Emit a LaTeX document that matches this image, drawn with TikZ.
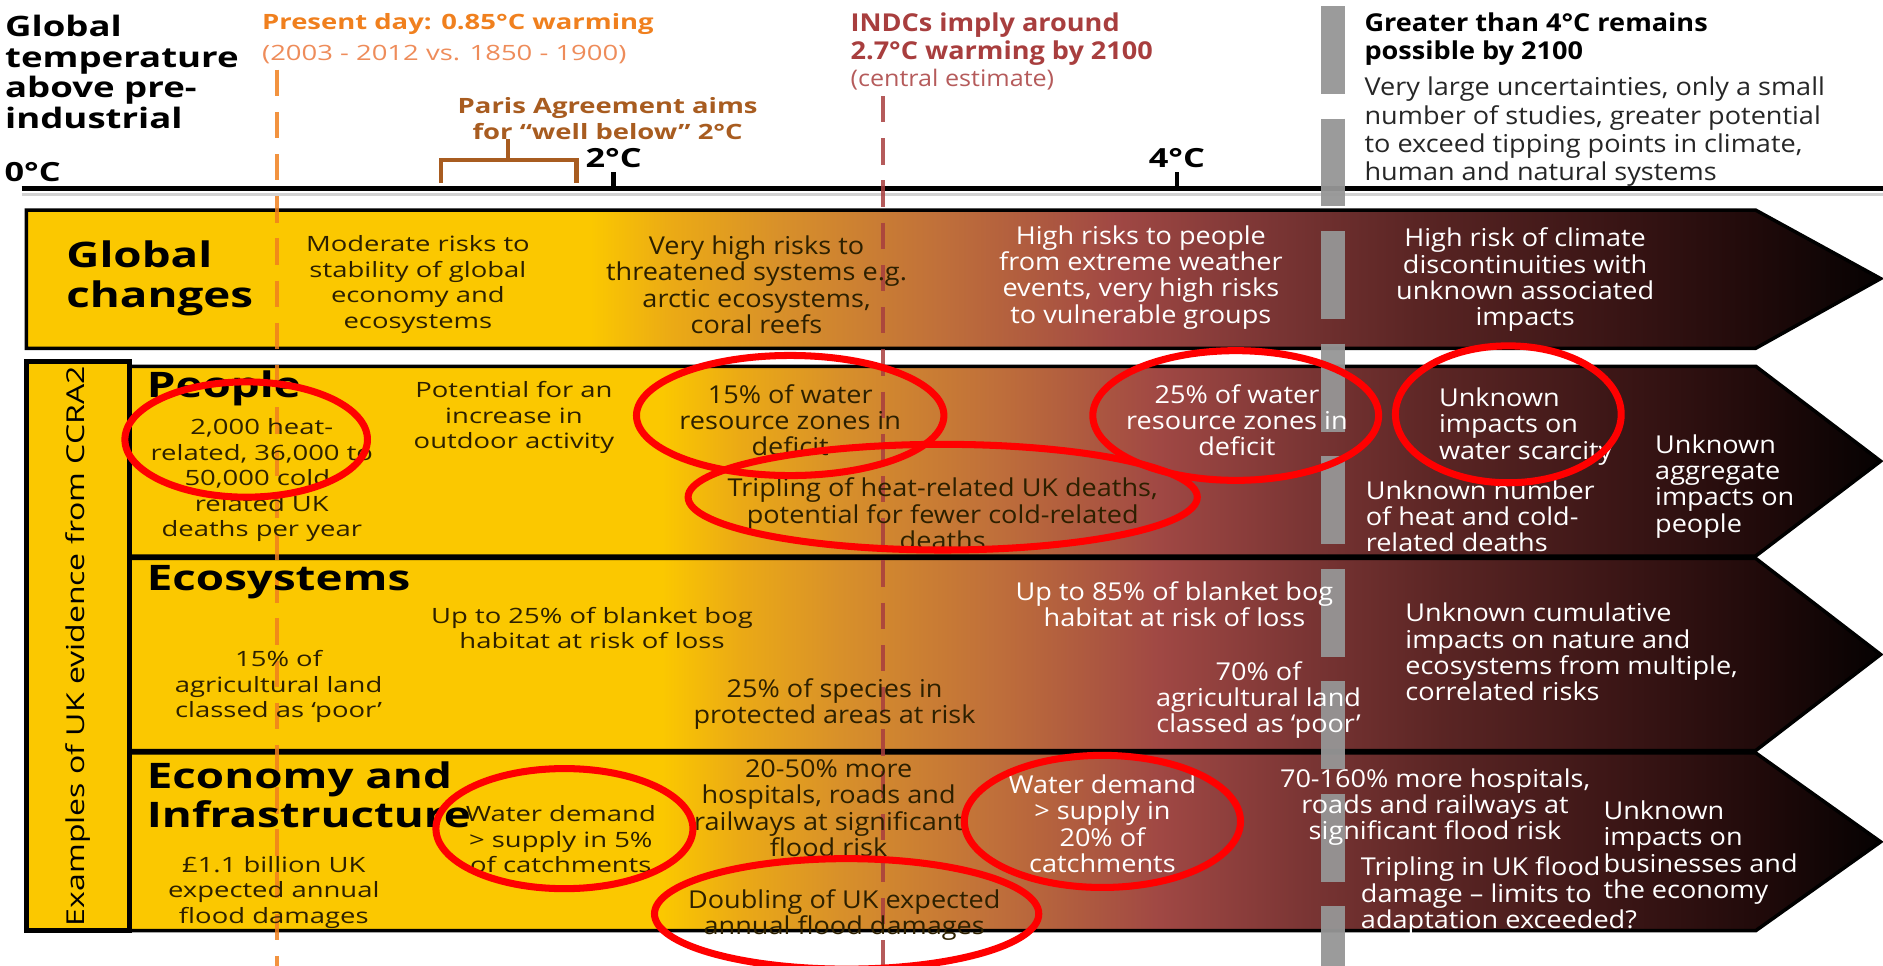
\documentclass[tikz,border=0pt]{standalone}
\usepackage{fontspec}
\setmainfont{Open Sans}
\newfontfamily\widefont[FakeStretch=1.3]{Open Sans}
\newfontfamily\narrowfont[FakeStretch=1.1]{Open Sans}
\usepackage{tikz}
\usetikzlibrary{shapes}
\usetikzlibrary{calc}
\usepackage{xcolor}
\definecolor{ccyellow}{RGB}{251,200,0}
\definecolor{ccgold}{RGB}{235,170,21}
\definecolor{ccamber}{RGB}{216,144,42}
\definecolor{ccorange}{RGB}{192,112,58}
\definecolor{ccred}{RGB}{160,72,68}
\definecolor{ccmaroon}{RGB}{122,53,52}
\definecolor{ccbrown}{RGB}{90,37,36}
\definecolor{ccdark}{RGB}{58,21,21}
\definecolor{ccdarker}{RGB}{32,10,10}
\definecolor{ccblack}{RGB}{6,2,2}
\definecolor{presentorange}{RGB}{240,128,30}
\definecolor{presentlight}{RGB}{238,140,90}
\definecolor{parisbrown}{RGB}{168,92,32}
\definecolor{indcred}{RGB}{168,62,62}
\definecolor{bandgrey}{RGB}{150,150,150}
\definecolor{inktext}{RGB}{45,32,0}
\pgfdeclarehorizontalshading{ccrashade}{100bp}{color(0bp)=(ccyellow); color(25bp)=(ccyellow); color(40.2bp)=(ccyellow); color(42.4bp)=(ccgold); color(45.3bp)=(ccamber); color(49.6bp)=(ccorange); color(54.4bp)=(ccred); color(58.6bp)=(ccmaroon); color(62.5bp)=(ccbrown); color(67.7bp)=(ccdark); color(71.6bp)=(ccdarker); color(75bp)=(ccblack); color(100bp)=(ccblack)}
\tikzstyle{rowarrow}=[shade, shading=ccrashade, draw=black, line width=2pt, line join=miter]
\tikzstyle{colbox}=[fill=ccyellow, draw=black, line width=3pt]
\tikzstyle{presentline}=[presentorange, line width=2.2pt, dash pattern=on 15pt off 9pt, opacity=.85]
\tikzstyle{indcline}=[indcred, line width=2.2pt, dash pattern=on 15pt off 9pt, opacity=.85]
\tikzstyle{greyband}=[bandgrey, line width=13.5pt, dash pattern=on 50pt off 14pt, opacity=.95]
\tikzstyle{redring}=[draw=red, line width=4pt]
\tikzstyle{widetxt}=[font=\widefont\fontsize{12}{14.5}\selectfont, text=inktext, align=center, inner sep=0pt]
\tikzstyle{narrowtxt}=[font=\narrowfont\fontsize{14}{15}\selectfont, text=inktext, align=center, inner sep=0pt]
\tikzstyle{whitetxt}=[narrowtxt, text=white]
\tikzstyle{rowtitle}=[font=\widefont\bfseries\fontsize{20}{22.5}\selectfont, text=black, align=left, anchor=west, inner sep=0pt]
\tikzstyle{degtxt}=[font=\widefont\bfseries\fontsize{15}{16}\selectfont, text=black, inner sep=1pt]

\begin{document}
\begin{tikzpicture}[x=0.24mm,y=-0.24mm]
\useasboundingbox (0,0) rectangle (1568,804);

% temperature scale
\coordinate (axisleft) at (18,157);
\coordinate (axisright) at (1568,157);
\draw[gray!35, line width=2pt] ($(axisleft)+(0,5)$) -- ($(axisright)+(0,5)$);
\draw[line width=3pt] (axisleft) -- (axisright);
\node[degtxt, anchor=south west] (deg0) at (2,153) {0°C};
\foreach \tx/\tl in {511/2,980/4} {
	\draw[line width=2.5pt] (\tx,157) -- (\tx,143) node[degtxt, anchor=south] (deg\tl) {\tl°C};
}

% headings above the scale
\node[font=\widefont\bfseries\fontsize{16}{17.5}\selectfont, align=left, anchor=west, inner sep=0pt] (globtemp) at (4,60) {Global\\temperature\\above pre-\\industrial};
\node[font=\widefont\bfseries\fontsize{12}{17}\selectfont, text=presentorange, anchor=west, inner sep=0pt] (present) at (218,20) {Present day: 0.85°C warming};
\node[font=\widefont\fontsize{12}{17}\selectfont, text=presentlight, anchor=west, inner sep=0pt] (presentyrs) at (218,45) {(2003 - 2012 vs. 1850 - 1900)};
\node[font=\widefont\bfseries\fontsize{12}{15}\selectfont, text=parisbrown, align=center, inner sep=0pt] (paris) at (506,99) {Paris Agreement aims\\for “well below” 2°C};
\draw[parisbrown, line width=2.5pt] (367,152) -- (367,133) -- (480,133) -- (480,152);
\draw[parisbrown, line width=2.5pt] (423,133) -- (423,116);
\node[font=\narrowfont\bfseries\fontsize{14}{16}\selectfont, text=indcred, align=left, anchor=north west, inner sep=0pt] (indc) at (708,10) {INDCs imply around\\2.7°C warming by 2100};
\node[font=\narrowfont\fontsize{13}{15}\selectfont, text=indcred!85!white, anchor=west, inner sep=0pt] (indcest) at (708,66) {(central estimate)};
\node[font=\narrowfont\bfseries\fontsize{14}{16}\selectfont, text=black, align=left, anchor=north west, inner sep=0pt] (beyond) at (1136,10) {Greater than 4°C remains\\possible by 2100};
\node[font=\narrowfont\fontsize{14}{16}\selectfont, text=black!85, align=left, anchor=north west, inner sep=0pt] (uncert) at (1136,64) {Very large uncertainties, only a small\\number of studies, greater potential\\to exceed tipping points in climate,\\human and natural systems};

% global changes arrow
\path[rowarrow] (22,175) -- (1462,175) -- (1566,232) -- (1462,290) -- (22,290) -- cycle;

% UK evidence arrows
\foreach \rt/\rb in {305/463,465/625,627/775} {
	\path[rowarrow] (108,\rt) -- (1462,\rt) -- (1566,{(\rt+\rb)/2}) -- (1462,\rb) -- (108,\rb) -- cycle;
}
\draw[colbox] (22,301) rectangle (108,775);
\node[font=\widefont\fontsize{14}{16}\selectfont, text=black, rotate=90, inner sep=0pt] (ukev) at (65,538) {Examples of UK evidence from CCRA2};

% warming lines
\coordinate (presenttop) at (231,58);
\coordinate (presentbot) at (231,804);
\draw[presentline] (presenttop) -- (presentbot);
\coordinate (indctop) at (735,80);
\coordinate (indcbot) at (735,804);
\draw[indcline] (indctop) -- (indcbot);
\coordinate (bandtop) at (1110,5);
\coordinate (bandbot) at (1110,804);
\draw[greyband] (bandtop) -- (bandbot);

% global changes
\node[rowtitle] (glob) at (55,232) {Global\\changes};
\node[widetxt] (glob1) at (348,237) {Moderate risks to\\stability of global\\economy and\\ecosystems};
\node[narrowtxt] (glob2) at (630,237) {Very high risks to\\threatened systems e.g.\\arctic ecosystems,\\coral reefs};
\node[whitetxt] (glob3) at (950,231) {High risks to people\\from extreme weather\\events, very high risks\\to vulnerable groups};
\node[whitetxt] (glob4) at (1270,233) {High risk of climate\\discontinuities with\\unknown associated\\impacts};

% people
\node[rowtitle] (ppl) at (122,323) {People};
\node[widetxt] (ppl1) at (218,400) {2,000 heat-\\related, 36,000 to\\50,000 cold-\\related UK\\deaths per year};
\node[widetxt] (ppl2) at (428,348) {Potential for an\\increase in\\outdoor activity};
\node[narrowtxt] (ppl3) at (658,350) {15\% of water\\resource zones in\\deficit};
\node[narrowtxt] (ppl4) at (785,428) {Tripling of heat-related UK deaths,\\potential for fewer cold-related\\deaths};
\node[whitetxt] (ppl5) at (1030,350) {25\% of water\\resource zones in\\deficit};
\node[whitetxt, align=left, anchor=west] (ppl6) at (1198,355) {Unknown\\impacts on\\water scarcity};
\node[whitetxt, align=left, anchor=west] (ppl7) at (1137,430) {Unknown number\\of heat and cold-\\related deaths};
\node[whitetxt, align=left, anchor=west] (ppl8) at (1378,405) {Unknown\\aggregate\\impacts on\\people};

% ecosystems
\node[rowtitle] (eco) at (122,485) {Ecosystems};
\node[widetxt] (eco1) at (493,523) {Up to 25\% of blanket bog\\habitat at risk of loss};
\node[widetxt] (eco2) at (232,572) {15\% of\\agricultural land\\classed as ‘poor’};
\node[narrowtxt] (eco3) at (695,586) {25\% of species in\\protected areas at risk};
\node[whitetxt] (eco4) at (978,503) {Up to 85\% of blanket bog\\habitat at risk of loss};
\node[whitetxt] (eco5) at (1048,583) {70\% of\\agricultural land\\classed as ‘poor’};
\node[whitetxt, align=left, anchor=west] (eco6) at (1170,543) {Unknown cumulative\\impacts on nature and\\ecosystems from multiple,\\correlated risks};

% economy and infrastructure
\node[rowtitle] (ecn) at (122,662) {Economy and\\Infrastructure};
\node[widetxt] (ecn1) at (228,743) {£1.1 billion UK\\expected annual\\flood damages};
\node[widetxt] (ecn2) at (467,699) {Water demand\\> supply in 5\%\\of catchments};
\node[narrowtxt] (ecn3) at (690,673) {20-50\% more\\hospitals, roads and\\railways at significant\\flood risk};
\node[narrowtxt] (ecn4) at (703,762) {Doubling of UK expected\\annual flood damages};
\node[whitetxt] (ecn5) at (918,686) {Water demand\\> supply in\\20\% of\\catchments};
\node[whitetxt] (ecn6) at (1195,672) {70-160\% more hospitals,\\roads and railways at\\significant flood risk};
\node[whitetxt, align=left, anchor=west] (ecn7) at (1133,746) {Tripling in UK flood\\damage – limits to\\adaptation exceeded?};
\node[whitetxt, align=left, anchor=west] (ecn8) at (1335,710) {Unknown\\impacts on\\businesses and\\the economy};

% red rings
\foreach \ex/\ey/\ea/\eb in {205/366/101/48,658/346/128/50,785/414/212/44,1029/346/119/54,1256/345/94/57,470/690/107/50,705/761/160/46,918/684/115/55} {
	\draw[redring] (\ex,\ey) ellipse ({\ea} and {\eb});
}
\end{tikzpicture}
\end{document}
